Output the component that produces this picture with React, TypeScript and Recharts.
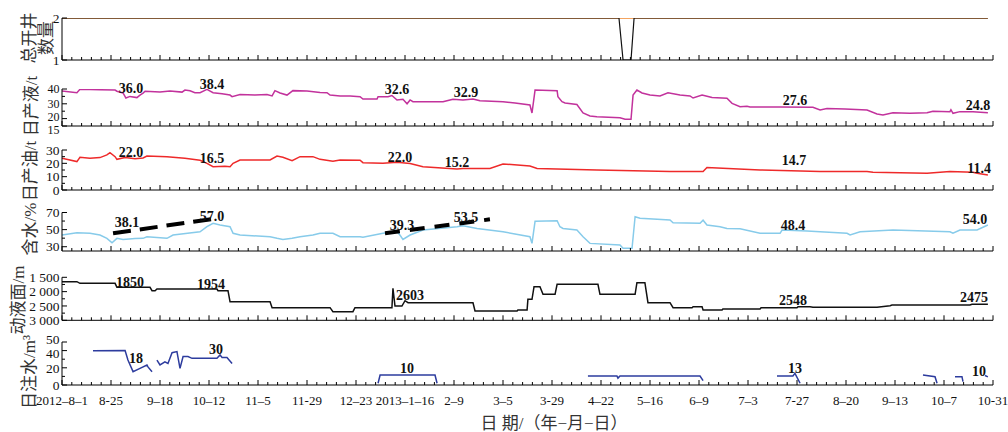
import React from 'react';
import { LineChart, Line, XAxis, YAxis, ReferenceDot } from 'recharts';

// x values are days counted from 2012-8-1 (2013-10-31 = day 456)
type Pt = [number, number | null];
type Note = [number, number, string];

const xLabels = ['2012–8–1', '8-25', '9–18', '10–12', '11–5', '11-29', '12–23', '2013–1–16', '2–9', '3–5', '3-29', '4–22', '5–16', '6–9', '7–3', '7-27', '8–20', '9–13', '10–7', '10-31'];

// 总开井数量
const wellsPlan: Pt[] = [[0, 2], [453.5, 2]];
const wellsOpen: Pt[] = [[0, 2], [272.8, 2], [274.8, 1], [278.7, 1], [280.2, 2], [453.5, 2]];

// 日产液/t
const liquid: Pt[] = [
  [0, 38.6], [7.3, 37.5], [8.8, 39.8], [18.6, 39.5], [26, 39.3], [26.9, 38.5], [29.9, 37.3], [31.3, 33.9],
  [33.3, 35], [36.7, 34.2], [38.2, 35.9], [39.7, 37.2], [40.7, 38.5], [48, 37.9], [52.9, 38.6], [58.8, 37.9],
  [60.2, 39.3], [62.7, 38.8], [65.1, 37.5], [67.6, 37.5], [71, 39.7], [74, 37.5], [78.4, 36.8], [82.3, 35.9],
  [83.3, 34.8], [87.2, 36.3], [94.5, 36], [100.4, 36.3], [102.9, 35.3], [104.3, 38.9], [106.8, 37.3],
  [110.2, 35.9], [113.1, 38.9], [120, 38.6], [126.4, 37.7], [129.8, 37.5], [131.3, 35.9], [136.2, 35.3],
  [141.1, 35.3], [146, 34.8], [147.4, 33.2], [154.3, 33.2], [154.8, 34.8], [159.7, 34.8], [161.6, 35.6],
  [164.1, 32.6], [167, 33], [169, 30], [170.5, 32.6], [171.9, 31.4], [186.6, 31.4], [191.5, 33], [196.4, 32.6],
  [201.3, 33.2], [204.7, 32], [216, 31.4], [221.9, 30.5], [229.2, 29.2], [230.2, 23.8], [231.7, 39.3],
  [242.5, 38.9], [242.9, 34.8], [244.9, 31.4], [246.4, 30.5], [252.2, 29.5], [255.2, 23.8], [258.6, 21.8],
  [262, 21.3], [273.3, 20.5], [275.8, 19.5], [278.7, 19.5], [279.7, 35.9], [281.6, 39.3], [284.1, 37.3],
  [288, 35.9], [292.9, 35.3], [296.8, 37.5], [302.7, 35.9], [307.6, 35.3], [309.1, 33.9], [313.5, 35.9],
  [318.4, 34.2], [325.7, 33.7], [328.2, 30.3], [332.1, 28], [335.5, 28.3], [337, 27.8], [351.7, 27.8],
  [367.8, 27.6], [371.3, 25.8], [374.7, 26.8], [383.5, 26.5], [394.3, 25.8], [399.2, 23.1], [402.1, 22.4],
  [407, 24], [415.3, 23.6], [423.7, 24], [426.6, 25], [434.9, 24.7], [435.4, 26], [436.4, 23.6], [439.8, 24.7],
  [446.2, 24.7], [453.5, 24],
];

// 日产油/t
const oil: Pt[] = [
  [0, 23.8], [7.3, 21.3], [8.8, 24.5], [13.7, 23.8], [18.6, 24.3], [22, 26.3], [23.5, 28], [26, 25],
  [26.9, 23], [30.9, 24.3], [35.8, 23.5], [39.7, 24], [41.6, 25.5], [51.4, 25], [60.2, 23.8], [67.6, 22.3],
  [71, 20], [74, 17.5], [79.8, 17.8], [82.3, 17.5], [83.8, 20], [87.2, 22.5], [101.9, 22.5], [105.3, 25.5],
  [108.2, 24.5], [112.7, 22], [116.6, 25], [122.9, 25], [126.4, 23], [132.7, 21.5], [136.2, 22.5],
  [146, 22.3], [147.4, 20.5], [157.2, 20], [164.1, 20.8], [170.5, 19.8], [176.8, 17.5], [193.5, 15.8],
  [196.4, 16.2], [209.6, 16.2], [216, 19.5], [229.2, 18], [232.7, 16.2], [262, 15], [297.8, 13.8],
  [314, 13.8], [315.9, 16.8], [341.9, 15], [371.3, 13.8], [394.3, 13.8], [397.2, 13.3], [423.7, 12.5],
  [434.9, 13.8], [446.2, 13.3], [448.2, 12.5], [453.5, 11.3],
];

// 含水/%
const waterCut: Pt[] = [
  [0, 43.7], [7.3, 46.4], [13.7, 45.7], [18.6, 43.7], [22, 39.8], [24.5, 34.7], [26.9, 39.8], [29.9, 38.5],
  [35.8, 39.5], [39.7, 39.8], [41.6, 41.7], [51.4, 39.8], [54.4, 43.7], [67.6, 47.5], [71, 53.4], [74, 57.4],
  [77.4, 55.4], [82.3, 53.4], [83.8, 45.7], [87.2, 43.7], [101.9, 41.7], [105.3, 39.8], [108.2, 38.5],
  [112.7, 39.8], [116.6, 41.7], [122.9, 43.7], [126.4, 45.7], [132.7, 45.7], [136.2, 41.7], [146, 41.7],
  [147.4, 41], [157.2, 45.7], [164.1, 47.5], [165.5, 43.7], [167, 38.5], [170.5, 43.7], [176.8, 49.5],
  [193.5, 53.4], [196.4, 54.4], [203.3, 51.4], [216, 47.5], [229.2, 41.7], [230.2, 33.9], [231.7, 59.7],
  [242.5, 60.4], [243.9, 53.4], [245.4, 51.4], [252.2, 49.5], [255.2, 41.7], [258.6, 33.9], [273.3, 32],
  [274.8, 28.2], [279.2, 28.2], [280.7, 65], [283.1, 63.2], [297.8, 61.2], [299.3, 58], [312.5, 57.4],
  [314, 61], [315.9, 55.4], [322.3, 53.4], [325.7, 51.4], [332.1, 51], [341.9, 45.7], [351.7, 45.7],
  [352.7, 49.5], [364.9, 48.5], [371.3, 47.5], [384.5, 45.7], [386, 43.7], [390.9, 47.5], [407, 49.5],
  [434.9, 47.5], [436.4, 45.7], [439.8, 49.5], [448.2, 49.5], [453.5, 55.4],
];
const trendA: Pt[] = [[25, 45.7], [75.9, 63.2]];
const trendB: Pt[] = [[158.2, 45.7], [209.6, 62]];

// 动液面/m
const fluidLevel: Pt[] = [
  [0, 1653], [7.3, 1653], [8.8, 1710], [26, 1710], [26.9, 1850], [43.1, 1850], [44.1, 1967], [45.6, 1967],
  [46.5, 1908], [75.9, 1908], [76.4, 1967], [81.3, 1967], [82.3, 2351], [101.9, 2351], [102.9, 2560],
  [131.3, 2560], [132.7, 2700], [142.5, 2700], [143.5, 2560], [161.6, 2560], [162.1, 1884], [163.1, 2502],
  [166.5, 2502], [168, 2317], [169.5, 2387], [201.3, 2387], [202.3, 2676], [222.9, 2676], [223.3, 2641],
  [227.8, 2641], [228.2, 2269], [230.2, 2269], [231.2, 1827], [234.1, 1827], [235.6, 2094], [241.5, 2094],
  [242.5, 1745], [262.5, 1745], [263.5, 2094], [280.7, 2094], [281.6, 1688], [285.5, 1688], [287, 2387],
  [297.8, 2387], [299.3, 2560], [308.6, 2560], [309.1, 2526], [313.5, 2526], [314, 2641], [323.3, 2641],
  [323.7, 2606], [341.9, 2606], [342.4, 2560], [360, 2560], [360.5, 2526], [366.4, 2526], [367.8, 2547],
  [399.2, 2547], [405.6, 2491], [406.5, 2468], [444.7, 2468], [445.7, 2442], [453.5, 2442],
];

// 日注水/m3 (null = no injection)
const injection: Pt[] = [
  [15.2, 39.9], [30.9, 40], [32.3, 29], [34.8, 15.5], [38.2, 19.4], [41.6, 23.3], [42.1, 21], [44.1, 15.5],
  [45, null],
  [46.5, 29], [48, 23.3], [50.4, 27], [51.9, 25], [53.9, 37.6], [56.3, 38.8], [57.8, 19.4], [59.3, 33],
  [61.7, 33], [63.7, 31], [75.9, 31], [77.4, 35], [78.4, 32], [80.8, 32], [83.3, 25],
  [84, null],
  [154.8, 2], [155.8, 11.6], [182.7, 11.6], [183.7, 2],
  [184, null],
  [257.6, 10.5], [271.8, 10.5], [272.3, 8], [273.3, 10.5], [312.5, 10.5], [314, 5],
  [315, null],
  [350.2, 10.5], [358, 10.5], [359, 13.6], [361.5, 2],
  [362, null],
  [421.7, 11.6], [427.6, 9.7], [428.6, 2],
  [429, null],
  [437.4, 9.7], [440.8, 9.7], [441.3, 4],
  [442, null],
  [452.1, 11], [453.5, 9.5],
];

const liquidNotes: Note[] = [[33.8, 37.6, '36.0'], [73.5, 39.7, '38.4'], [164.1, 36.3, '32.6'], [197.9, 34.3, '32.9'], [359, 28.9, '27.6'], [448.7, 25.8, '24.8']];
const oilNotes: Note[] = [[33.8, 24.8, '22.0'], [73.5, 20.3, '16.5'], [165.5, 21, '22.0'], [193.5, 17.6, '15.2'], [358.5, 18.4, '14.7'], [449.2, 13.1, '11.4']];
const waterNotes: Note[] = [[31.8, 53, '38.1'], [73.5, 59.5, '57.0'], [166.5, 49.5, '39.3'], [197.9, 58.9, '53.5'], [358, 49.5, '48.4'], [447.2, 56.5, '54.0']];
const levelNotes: Note[] = [[33.3, 1839, '1850'], [73, 1908, '1954'], [170.5, 2275, '2603'], [358, 2467, '2548'], [446.7, 2345, '2475']];
const injectionNotes: Note[] = [[36.2, 25.6, '18'], [75.4, 35.5, '30'], [169, 14, '10'], [359, 14.5, '13'], [449.2, 10.5, '10']];

const W = 1008;
const H = 432;
const LEFT = 62;
const RIGHT = 993;
const serif = '"Liberation Serif", "Times New Roman", serif';
const cjk = '"Liberation Serif", "Noto Sans CJK SC", serif';

// minor tick every 4.8 days, labelled tick every 24 days
const xTicks = Array.from({ length: 96 }, (_, i) => i * 4.8);

const toRows = (pts: Pt[]) => pts.map(([d, v]) => ({ d, v }));

const XTick = (props: any) => {
  const { x, y, index, showLabel } = props;
  const major = index % 5 === 0;
  return (
    <g>
      <line x1={x} x2={x} y1={y} y2={y - (major ? 5 : 3)} stroke="#000" strokeWidth={1} />
      {showLabel && major && (
        <text x={x} y={y + 20} textAnchor="middle" fontFamily={serif} fontSize={13} fill="#111">
          {xLabels[index / 5]}
        </text>
      )}
    </g>
  );
};

const YTick = (props: any) => {
  const { x, y, payload, labels, nudge, size } = props;
  const label = labels[payload.value];
  const shift = (nudge && nudge[payload.value]) || 0;
  return (
    <g>
      <line x1={x} x2={x + (label ? 5 : 3)} y1={y} y2={y} stroke="#000" strokeWidth={1} />
      {label && (
        <text x={x - 2.5} y={y + shift} dy="0.35em" textAnchor="end" fontFamily={serif} fontSize={size} fill="#111">
          {label}
        </text>
      )}
    </g>
  );
};

interface Series {
  data: Pt[];
  color: string;
  width?: number;
  dash?: string;
}

interface PanelProps {
  top: number;
  bottom: number;
  domain: [number, number];
  reversed?: boolean;
  yTicks: number[];
  yLabels: Record<string, string>;
  nudge?: Record<string, number>;
  labelSize?: number;
  showX?: boolean;
  series: Series[];
  notes?: Note[];
}

const Panel = ({ top, bottom, domain, reversed, yTicks, yLabels, nudge, labelSize = 13.5, showX, series, notes = [] }: PanelProps) => (
  <div style={{ position: 'absolute', left: 0, top: 0 }}>
    <LineChart width={W} height={H} margin={{ top, bottom: H - bottom - 1, left: LEFT - 1, right: W - RIGHT }}>
      <XAxis
        type="number"
        dataKey="d"
        domain={[0, 456]}
        allowDataOverflow
        ticks={xTicks}
        interval={0}
        height={1}
        tickSize={0}
        tickMargin={0}
        tickLine={false}
        axisLine={{ stroke: '#000' }}
        tick={(p: any) => <XTick {...p} showLabel={showX} />}
      />
      <YAxis
        type="number"
        domain={domain}
        allowDataOverflow
        reversed={reversed}
        ticks={yTicks}
        interval={0}
        width={1}
        tickSize={0}
        tickMargin={0}
        tickLine={false}
        axisLine={{ stroke: '#000' }}
        tick={(p: any) => <YTick {...p} labels={yLabels} nudge={nudge} size={labelSize} />}
      />
      {series.map((s, i) => (
        <Line
          key={i}
          data={toRows(s.data)}
          dataKey="v"
          type="linear"
          stroke={s.color}
          strokeWidth={s.width ?? 1.5}
          strokeDasharray={s.dash}
          dot={false}
          activeDot={false}
          isAnimationActive={false}
        />
      ))}
      {notes.map(([d, v, text], i) => (
        <ReferenceDot
          key={'n' + i}
          x={d}
          y={v}
          r={0}
          ifOverflow="visible"
          shape={(p: any) => (
            <text x={p.cx} y={p.cy} textAnchor="middle" fontFamily={serif} fontWeight="bold" fontSize={14} fill="#111">
              {text}
            </text>
          )}
        />
      ))}
    </LineChart>
  </div>
);

const VTitle = ({ cx, cy, children }: { cx: number; cy: number; children: React.ReactNode }) => (
  <div
    style={{
      position: 'absolute',
      left: cx,
      top: cy,
      transform: 'translate(-50%, -50%) rotate(-90deg)',
      whiteSpace: 'nowrap',
      fontFamily: cjk,
      fontSize: 17,
      lineHeight: '17px',
      color: '#333',
    }}
  >
    {children}
  </div>
);

export default function App() {
  return (
    <div style={{ position: 'absolute', left: 0, top: 0, width: W, height: H, background: '#fff', overflow: 'hidden' }}>
      <Panel
        top={18}
        bottom={60}
        domain={[1, 2]}
        yTicks={[1, 2]}
        yLabels={{ 1: '1', 2: '2' }}
        series={[
          { data: wellsPlan, color: '#f4a460', width: 2 },
          { data: wellsOpen, color: '#111', width: 1.2 },
        ]}
      />
      <Panel
        top={89}
        bottom={126}
        domain={[15, 40]}
        yTicks={[15, 20, 25, 30, 35, 40]}
        yLabels={{ 15: '15', 20: '20', 30: '30', 40: '40' }}
        nudge={{ 15: 4, 20: -1.5 }}
        labelSize={12}
        series={[{ data: liquid, color: '#c2329c' }]}
        notes={liquidNotes}
      />
      <Panel
        top={150}
        bottom={190}
        domain={[0, 30]}
        yTicks={[0, 5, 10, 15, 20, 25, 30]}
        yLabels={{ 0: '0', 10: '10', 20: '20', 30: '30' }}
        series={[{ data: oil, color: '#ee2a2a' }]}
        notes={oilNotes}
      />
      <Panel
        top={212.5}
        bottom={251}
        domain={[25, 70]}
        yTicks={[30, 40, 50, 60, 70]}
        yLabels={{ 30: '30', 50: '50', 70: '70' }}
        series={[
          { data: waterCut, color: '#87cbea' },
          { data: trendA, color: '#000', width: 4, dash: '18 9' },
          { data: trendB, color: '#000', width: 4, dash: '15 10' },
        ]}
        notes={waterNotes}
      />
      <Panel
        top={277.3}
        bottom={320.3}
        domain={[1500, 3000]}
        reversed
        yTicks={[1500, 1750, 2000, 2250, 2500, 2750, 3000]}
        yLabels={{ 1500: '1 500', 2000: '2 000', 2500: '2 500', 3000: '3 000' }}
        series={[{ data: fluidLevel, color: '#111' }]}
        notes={levelNotes}
      />
      <Panel
        top={342}
        bottom={385}
        domain={[0, 50]}
        yTicks={[0, 10, 20, 30, 40, 50]}
        yLabels={{ 0: '0', 20: '20', 40: '40', 50: '50' }}
        nudge={{ 50: -2.5, 40: 2.5 }}
        showX
        series={[{ data: injection, color: '#2d3c9e' }]}
        notes={injectionNotes}
      />

      <VTitle cx={29} cy={38}>总开井</VTitle>
      <VTitle cx={46} cy={38}>数量</VTitle>
      <VTitle cx={31} cy={106}>日产液/t</VTitle>
      <VTitle cx={30} cy={171}>日产油/t</VTitle>
      <VTitle cx={30} cy={229}>含水/%</VTitle>
      <VTitle cx={18} cy={300}>动液面/m</VTitle>
      <VTitle cx={29} cy={372}>日注水/m³</VTitle>

      <div
        style={{
          position: 'absolute',
          left: 554,
          top: 423,
          transform: 'translate(-50%, -50%)',
          whiteSpace: 'nowrap',
          fontFamily: cjk,
          fontSize: 17,
          lineHeight: '17px',
          color: '#333',
        }}
      >
        日 期/（年−月−日）
      </div>
    </div>
  );
}
